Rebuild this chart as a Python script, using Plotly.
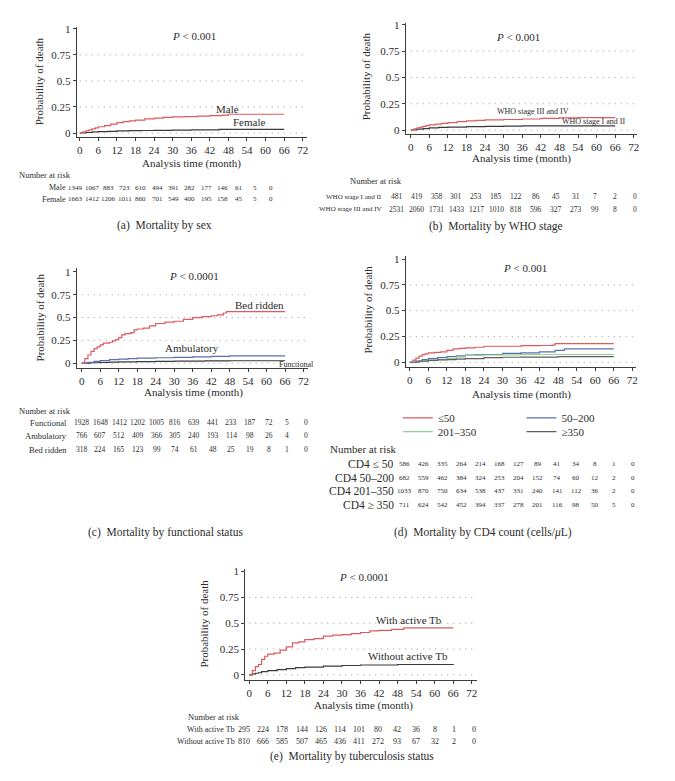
import plotly.graph_objects as go

W, H = 675, 781
FONT = "Liberation Serif"
TXT = "#2b2b2b"
AX = "#3c3c3c"
RED = "#dd5b60"
DARK = "#3a3a3a"
BLUE = "#5b6fb0"
GREEN = "#92d392"
GRAY = "#5e5e5e"
GRID = "#9a9a9a"

# ---------------- data ----------------
month_ticks = list(range(0, 73, 6))
prob_ticks = [0, 0.25, 0.5, 0.75, 1]
prob_labels = ["0", "0.25", "0.5", "0.75", "1"]

# (a) sex
male_t = [0, 1, 2, 3, 4, 5, 6, 8, 10, 12, 14, 16, 18, 21, 24, 27, 30, 34, 38, 42, 46, 48, 66]
male_p = [0, .01, .02, .03, .04, .05, .06, .07, .085, .1, .11, .117, .124, .135, .143, .15, .154, .158, .162, .166, .172, .18, .18]
female_t = [0, 2, 4, 6, 9, 12, 16, 20, 24, 30, 36, 45, 66]
female_p = [0, .005, .01, .013, .016, .02, .022, .024, .026, .028, .03, .034, .034]
risk_sex_labels = ["Male", "Female"]
risk_male = [1349, 1067, 883, 723, 610, 494, 391, 282, 177, 146, 61, 5, 0]
risk_female = [1663, 1412, 1206, 1011, 860, 701, 549, 400, 195, 158, 45, 5, 0]

# (b) WHO stage
who34_t = [0, 1, 2, 3, 4, 5, 6, 8, 10, 12, 15, 18, 21, 24, 30, 36, 42, 48, 54, 66]
who34_p = [0, .01, .02, .028, .035, .042, .048, .056, .063, .07, .08, .087, .092, .096, .1, .105, .11, .115, .118, .118]
who12_t = [0, 2, 4, 6, 9, 12, 18, 24, 30, 36, 66]
who12_p = [0, .008, .014, .02, .025, .028, .032, .035, .037, .04, .04]
risk_who_labels = ["WHO stage I and II", "WHO stage III and IV"]
risk_who12 = [481, 419, 358, 301, 253, 185, 122, 86, 45, 31, 7, 2, 0]
risk_who34 = [2531, 2060, 1731, 1433, 1217, 1010, 818, 596, 327, 273, 99, 8, 0]

# (c) functional status
bed_t = [0, 1, 2, 3, 4, 5, 6, 7, 9, 10, 11, 12, 13, 14, 16, 17, 18, 20, 22, 24, 27, 30, 33, 36, 39, 42, 44, 46, 47, 66]
bed_p = [0, .05, .09, .13, .16, .18, .2, .22, .23, .245, .26, .28, .31, .325, .335, .365, .375, .385, .41, .435, .45, .46, .48, .5, .51, .52, .53, .55, .565, .565]
amb_t = [0, 2, 4, 6, 9, 12, 15, 18, 24, 30, 36, 42, 48, 66]
amb_p = [0, .01, .02, .03, .04, .045, .05, .055, .06, .065, .07, .075, .08, .08]
func_t = [0, 3, 6, 9, 12, 18, 24, 30, 40, 48, 66]
func_p = [0, .005, .01, .012, .015, .018, .02, .022, .025, .027, .027]
risk_func_labels = ["Functional", "Ambulatory", "Bed ridden"]
risk_functional = [1928, 1648, 1412, 1202, 1005, 816, 639, 441, 233, 187, 72, 5, 0]
risk_ambulatory = [766, 607, 512, 409, 366, 305, 240, 193, 114, 98, 26, 4, 0]
risk_bedridden = [318, 224, 165, 123, 99, 74, 61, 48, 25, 19, 8, 1, 0]

# (d) CD4 count
cd4a_t = [0, 1, 2, 3, 4, 5, 6, 8, 10, 12, 14, 16, 18, 21, 24, 30, 36, 42, 46, 47, 66]
cd4a_p = [0, .02, .04, .06, .074, .08, .09, .095, .1, .115, .13, .135, .14, .145, .155, .155, .16, .162, .165, .18, .18]
cd4b_t = [0, 2, 4, 6, 9, 12, 15, 18, 21, 24, 30, 36, 42, 45, 47, 50, 66]
cd4b_p = [0, .01, .025, .035, .045, .055, .062, .07, .072, .075, .085, .09, .1, .1, .115, .13, .13]
cd4c_t = [0, 3, 6, 9, 12, 15, 18, 24, 30, 36, 66]
cd4c_p = [0, .01, .02, .025, .035, .05, .065, .07, .072, .075, .075]
cd4d_t = [0, 3, 6, 9, 12, 15, 18, 24, 30, 36, 48, 66]
cd4d_p = [0, .01, .018, .022, .025, .03, .035, .045, .048, .05, .055, .055]
cd4_legend = ["≤50", "50–200", "201–350", "≥350"]
risk_cd4_labels = ["CD4 ≤ 50", "CD4 50–200", "CD4 201–350", "CD4 ≥ 350"]
risk_cd4a = [586, 426, 335, 264, 214, 168, 127, 89, 41, 34, 8, 1, 0]
risk_cd4b = [682, 559, 462, 384, 324, 253, 204, 152, 74, 60, 12, 2, 0]
risk_cd4c = [1033, 870, 750, 634, 538, 437, 331, 240, 141, 112, 36, 2, 0]
risk_cd4d = [711, 624, 542, 452, 394, 337, 278, 201, 116, 98, 50, 5, 0]

# (e) tuberculosis
tb_t = [0, 1, 2, 3, 4, 5, 6, 8, 10, 12, 14, 16, 18, 21, 24, 27, 30, 33, 36, 39, 42, 46, 50, 66]
tb_p = [0, .04, .08, .1, .15, .18, .2, .21, .24, .27, .31, .32, .34, .35, .375, .385, .39, .4, .41, .425, .43, .44, .455, .455]
notb_t = [0, 1, 2, 3, 4, 6, 9, 12, 15, 18, 24, 30, 36, 48, 66]
notb_p = [0, .01, .015, .02, .03, .04, .05, .06, .07, .075, .085, .09, .095, .1, .105]
risk_tb_labels = ["With active Tb", "Without active Tb"]
risk_tb = [295, 224, 178, 144, 126, 114, 101, 80, 42, 36, 8, 1, 0]
risk_notb = [810, 666, 585, 507, 465, 436, 411, 272, 93, 67, 32, 2, 0]

# ---------------- figure ----------------
fig = go.Figure()


def px(x):
    return x / W


def py(y):
    return 1 - y / H


def text(x, y, s, size, anchor="center", angle=0, color=TXT):
    fig.add_annotation(x=px(x), y=py(y), xref="paper", yref="paper", text=s,
                       showarrow=False, xanchor=anchor, yanchor="middle",
                       textangle=angle, borderpad=0,
                       font=dict(family=FONT, size=size, color=color))


def panel(idx, xl, xr, x0, xs, yt, yb, y0, ys):
    xn = "x" if idx == 1 else f"x{idx}"
    yn = "y" if idx == 1 else f"y{idx}"
    xa = "xaxis" if idx == 1 else f"xaxis{idx}"
    ya = "yaxis" if idx == 1 else f"yaxis{idx}"
    xmax = (xr - x0) / xs
    common = dict(showline=True, linecolor=AX, linewidth=1, ticks="outside",
                  ticklen=3, tickcolor=AX, showgrid=False, zeroline=False,
                  tickfont=dict(family=FONT, size=11, color=TXT), fixedrange=True)
    fig.update_layout(**{
        xa: dict(domain=[px(xl), px(xr)], range=[(xl - x0) / xs, xmax],
                 anchor=yn, tickvals=month_ticks, **common),
        ya: dict(domain=[py(yb), py(yt)], range=[(y0 - yb) / ys, (y0 - yt) / ys],
                 anchor=xn, tickvals=prob_ticks, ticktext=prob_labels, **common),
    })
    for v in prob_ticks[:-1]:
        fig.add_shape(type="line", xref=xn, yref=yn, x0=0, x1=xmax, y0=v, y1=v,
                      line=dict(color=GRID, width=1, dash="1px,5px"), layer="below")
    return xn, yn


def curve(xn, yn, t, p, color, name=None, legend=None):
    kw = dict(showlegend=False)
    if legend:
        kw = dict(showlegend=True, legend=legend)
    fig.add_trace(go.Scatter(x=t, y=p, mode="lines", name=name,
                             line=dict(color=color, width=1.2, shape="hv"),
                             xaxis=xn, yaxis=yn, hoverinfo="skip", **kw))


def table(title_xy, title_size, labels, rows, label_right, first, last, ys,
          lab_size, val_size):
    text(title_xy[0], title_xy[1], "Number at risk", title_size, anchor="left")
    for lab, vals, y in zip(labels, rows, ys):
        text(label_right, y, lab, lab_size, anchor="right")
        step = (last - first) / (len(vals) - 1)
        for i, v in enumerate(vals):
            text(first + i * step, y, str(v), val_size)


def titles(ytitle_xy, xtitle_xy, p_xy, ptxt):
    text(ytitle_xy[0], ytitle_xy[1], "Probability of death", 11, angle=-90)
    text(xtitle_xy[0], xtitle_xy[1], "Analysis time (month)", 11)
    text(p_xy[0], p_xy[1], "<i>P</i> < " + ptxt, 11)


# (a)
xa_, ya_ = panel(1, 77, 308, 80, 3.106, 23, 134, 130, 105)
curve(xa_, ya_, female_t, female_p, DARK)
curve(xa_, ya_, male_t, male_p, RED)
titles((40, 78), (192, 161), (195, 32), "0.001")
text(228, 106, "Male", 11)
text(250, 119, "Female", 11)
table((18, 172), 8.5, risk_sex_labels, [risk_male, risk_female], 67, 76, 272,
      [185, 197], 8, 7)
text(165, 223, "(a)  Mortality by sex", 11.5)

# (b)
xb_, yb_ = panel(2, 407, 639, 412, 3.106, 19, 131, 127, 106)
curve(xb_, yb_, who12_t, who12_p, DARK)
curve(xb_, yb_, who34_t, who34_p, RED)
titles((368, 73), (523, 156), (520, 33), "0.001")
text(535, 108, "WHO stage III and IV", 8)
text(595, 118, "WHO stage I and II", 8)
table((350, 178), 8.5, risk_who_labels, [risk_who12, risk_who34], 384, 398, 637,
      [194, 207], 7, 7.5)
text(497, 224, "(b)  Mortality by WHO stage", 11.5)

# (c)
xc_, yc_ = panel(3, 77, 309, 82, 3.09, 266, 367, 362, 92)
curve(xc_, yc_, func_t, func_p, DARK)
curve(xc_, yc_, amb_t, amb_p, BLUE)
curve(xc_, yc_, bed_t, bed_p, RED)
titles((40, 316), (194, 392), (195, 274), "0.0001")
text(260, 303, "Bed ridden", 11)
text(193, 347, "Ambulatory", 11)
text(297, 363, "Functional", 8)
table((18, 410), 8.5, risk_func_labels,
      [risk_functional, risk_ambulatory, risk_bedridden], 68, 82, 307,
      [422, 435, 449], 8.5, 7.5)
text(166, 533, "(c)  Mortality by functional status", 11.5)

# (d)
xd_, yd_ = panel(4, 407, 638, 411, 3.1, 254, 366, 361, 104)
legend_names = ["legend", "legend2", "legend3", "legend4"]
curve(xd_, yd_, cd4a_t, cd4a_p, RED, cd4_legend[0], legend_names[0])
curve(xd_, yd_, cd4b_t, cd4b_p, BLUE, cd4_legend[1], legend_names[1])
curve(xd_, yd_, cd4c_t, cd4c_p, GREEN, cd4_legend[2], legend_names[2])
curve(xd_, yd_, cd4d_t, cd4d_p, GRAY, cd4_legend[3], legend_names[3])
titles((369, 308), (523, 394), (527, 266), "0.001")
table((330, 448), 11, risk_cd4_labels, [risk_cd4a, risk_cd4b, risk_cd4c, risk_cd4d],
      396, 406, 635, [464, 478, 491, 505], 11.5, 7)
text(484, 533, "(d)  Mortality by CD4 count (cells/<i>μ</i>L)", 11.5)

# (e)
xe_, ye_ = panel(5, 246, 478, 250, 3.1, 569, 681, 676, 104)
curve(xe_, ye_, notb_t, notb_p, DARK)
curve(xe_, ye_, tb_t, tb_p, RED)
titles((205, 624), (365, 707), (365, 577), "0.0001")
text(410, 621, "With active Tb", 11)
text(409, 657, "Without active Tb", 11)
table((188, 719), 8.5, risk_tb_labels, [risk_tb, risk_notb], 237, 245, 475,
      [731, 743], 8, 8)
text(353, 758, "(e)  Mortality by tuberculosis status", 11.5)

legend_style = dict(orientation="h", xanchor="left", yanchor="middle",
                    itemwidth=30, bgcolor="rgba(0,0,0,0)", borderwidth=0,
                    font=dict(family=FONT, size=11, color=TXT))
legend_pos = [(399, 417), (523, 417), (399, 431), (523, 431)]
layout_legends = {}
for name, (lx, ly) in zip(legend_names, legend_pos):
    layout_legends[name] = dict(x=px(lx), y=py(ly), **legend_style)

fig.update_layout(
    width=W, height=H, margin=dict(l=0, r=0, t=0, b=0),
    paper_bgcolor="white", plot_bgcolor="white",
    font=dict(family=FONT, color=TXT),
    **layout_legends,
)

fig.write_html("out.html", config={"displayModeBar": False},
               post_script="document.body.style.margin='0';document.body.style.padding='0';")
